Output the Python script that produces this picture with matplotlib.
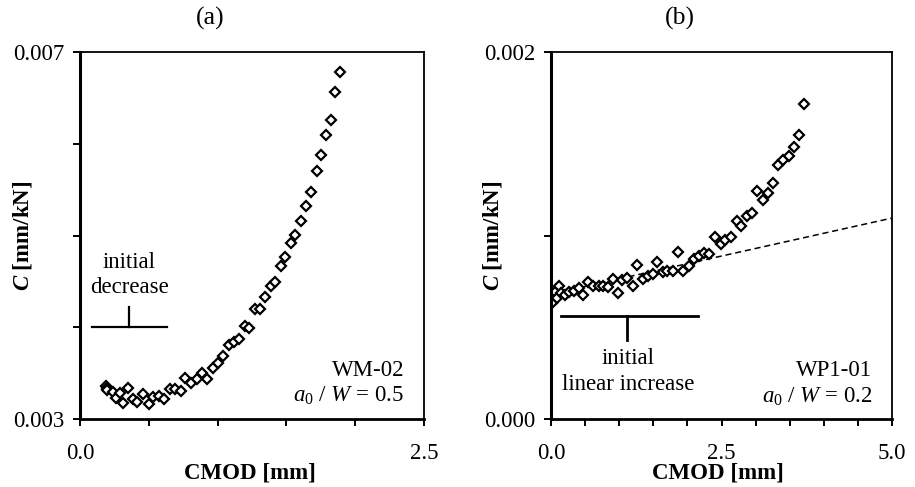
import matplotlib
matplotlib.use('Agg')
import matplotlib.pyplot as plt

# panel (a): WM-02, a0/W = 0.5
cmod_a = [0.189, 0.194, 0.199, 0.237, 0.262, 0.291, 0.315, 0.349, 0.388, 0.417,
          0.460, 0.499, 0.533, 0.577, 0.610, 0.654, 0.688, 0.732, 0.766, 0.809,
          0.848, 0.887, 0.925, 0.964, 1.003, 1.037, 1.080, 1.119, 1.158, 1.197,
          1.226, 1.274, 1.308, 1.347, 1.385, 1.419, 1.458, 1.492, 1.531, 1.565,
          1.608, 1.642, 1.681, 1.720, 1.754, 1.788, 1.822, 1.856, 1.890]
comp_a = [0.003363, 0.003338, 0.003312, 0.003291, 0.003225, 0.003283, 0.003174,
          0.003338, 0.003218, 0.003182, 0.003272, 0.003167, 0.003236, 0.003254,
          0.003218, 0.003327, 0.003327, 0.003302, 0.003447, 0.003392, 0.003436,
          0.003501, 0.003436, 0.003556, 0.003610, 0.003683, 0.003810, 0.003836,
          0.003872, 0.004010, 0.003992, 0.004199, 0.004199, 0.004330, 0.004453,
          0.004490, 0.004671, 0.004766, 0.004918, 0.005009, 0.005162, 0.005325,
          0.005470, 0.005699, 0.005874, 0.006095, 0.006255, 0.006560, 0.006778]

# panel (b): WP1-01, a0/W = 0.2
cmod_b = [0.000, 0.015, 0.024, 0.054, 0.088, 0.122, 0.142, 0.200, 0.259, 0.332,
          0.406, 0.474, 0.543, 0.621, 0.699, 0.767, 0.836, 0.904, 0.982, 1.041,
          1.119, 1.197, 1.266, 1.344, 1.422, 1.491, 1.559, 1.637, 1.706, 1.784,
          1.862, 1.940, 2.019, 2.097, 2.175, 2.243, 2.322, 2.410, 2.488, 2.556,
          2.644, 2.732, 2.791, 2.869, 2.947, 3.025, 3.113, 3.182, 3.260, 3.328,
          3.407, 3.485, 3.563, 3.641, 3.710]
comp_b = [0.000668, 0.000632, 0.000683, 0.000690, 0.000659, 0.000723, 0.000687,
          0.000678, 0.000690, 0.000696, 0.000714, 0.000678, 0.000745, 0.000727,
          0.000723, 0.000723, 0.000719, 0.000763, 0.000687, 0.000759, 0.000767,
          0.000727, 0.000841, 0.000763, 0.000777, 0.000792, 0.000856, 0.000799,
          0.000805, 0.000805, 0.000908, 0.000805, 0.000832, 0.000872, 0.000890,
          0.000905, 0.000901, 0.000992, 0.000955, 0.000977, 0.000992, 0.001077,
          0.001054, 0.001108, 0.001123, 0.001241, 0.001192, 0.001232, 0.001286,
          0.001386, 0.001413, 0.001431, 0.001482, 0.001549, 0.001718]

# linear fit of the initial part (dashed)
fit_x = [0.0, 5.0]
fit_y = [0.000681, 0.001095]

# Plot configuration
FONTSIZE = 16.5
plt.rcParams['font.family'] = 'Liberation Serif'
plt.rcParams['font.size'] = FONTSIZE
plt.rcParams['mathtext.fontset'] = 'custom'
plt.rcParams['mathtext.rm'] = 'Liberation Serif'
plt.rcParams['mathtext.it'] = 'Liberation Serif:italic'
plt.rcParams['mathtext.bf'] = 'Liberation Serif:bold'
plt.rcParams['mathtext.bfit'] = 'Liberation Serif:italic:bold'

fig = plt.figure(figsize=(9.15, 4.87), dpi=100)
ax1 = fig.add_axes([80/915, 1 - 419/487, 344/915, 367/487])
ax2 = fig.add_axes([551/915, 1 - 419/487, 341/915, 367/487])

mk = dict(ls='none', marker='D', ms=4.8, mfc='white', mec='black', mew=1.6)

ax1.plot(cmod_a, comp_a, **mk)
ax1.set_xlim(0, 2.5)
ax1.set_ylim(0.003, 0.007)
ax1.set_xticks([0, 0.5, 1.0, 1.5, 2.0, 2.5])
ax1.set_xticklabels(['0.0', '', '', '', '', '2.5'])
ax1.set_yticks([0.003, 0.004, 0.005, 0.006, 0.007])
ax1.set_yticklabels(['0.003', '', '', '', '0.007'])

# initial decrease marker
ax1.plot([0.085, 0.630], [0.004, 0.004], color='black', lw=1.6)
ax1.plot([0.354, 0.354], [0.004, 0.00422], color='black', lw=1.6)
ax1.text(0.36, 0.00457, 'initial\ndecrease', ha='center', va='center',
         linespacing=1.3)
ax1.text(2.355, 0.00313, 'WM-02\n$a_{\\mathit{0}}\\ /\\ W\\,=\\,0.5$',
         ha='right', va='bottom', linespacing=1.25)

ax2.plot(fit_x, fit_y, ls='--', color='black', lw=1.1, dashes=(4, 2.5))
ax2.plot(cmod_b, comp_b, **mk)
ax2.set_xlim(0, 5.0)
ax2.set_ylim(0, 0.002)
ax2.set_xticks([0.5 * i for i in range(11)])
ax2.set_xticklabels(['0.0', '', '', '', '', '2.5', '', '', '', '', '5.0'])
ax2.set_yticks([0, 0.001, 0.002])
ax2.set_yticklabels(['0.000', '', '0.002'])

# initial linear increase marker
ax2.plot([0.152, 2.155], [0.000559, 0.000559], color='black', lw=2.0)
ax2.plot([1.119, 1.119], [0.000559, 0.000432], color='black', lw=2.0)
ax2.text(1.13, 0.00026, 'initial\nlinear increase', ha='center', va='center',
         linespacing=1.3)
ax2.text(4.71, 0.000060, 'WP1-01\n$a_{\\mathit{0}}\\ /\\ W\\,=\\,0.2$',
         ha='right', va='bottom', linespacing=1.25)

for ax in (ax1, ax2):
    ax.tick_params(direction='out', length=5, width=1.4, pad=6)
    ax.tick_params(axis='x', pad=12)
    ax.spines['left'].set_linewidth(2.2)
    ax.spines['bottom'].set_linewidth(2.0)
    ax.spines['top'].set_linewidth(1.3)
    ax.spines['right'].set_linewidth(1.3)
    ax.set_xlabel('CMOD [mm]', fontweight='bold')
    ax.set_ylabel('$\\mathbfit{C}$ [mm/kN]', fontweight='bold')
    ax.xaxis.label.set_va('center')
    ax.yaxis.label.set_va('center')

ax1.xaxis.set_label_coords((250 - 80) / 344, (419 - 473) / 367)
ax2.xaxis.set_label_coords((718 - 551) / 341, (419 - 473) / 367)
ax1.yaxis.set_label_coords((22 - 80) / 344, 0.5)
ax2.yaxis.set_label_coords((492 - 551) / 341, 0.5)

fig.text(210/915, 1 - 18/487, '(a)', ha='center', va='center', fontsize=18.5)
fig.text(680/915, 1 - 18/487, '(b)', ha='center', va='center', fontsize=18.5)

fig.savefig('out.png', dpi=100)
